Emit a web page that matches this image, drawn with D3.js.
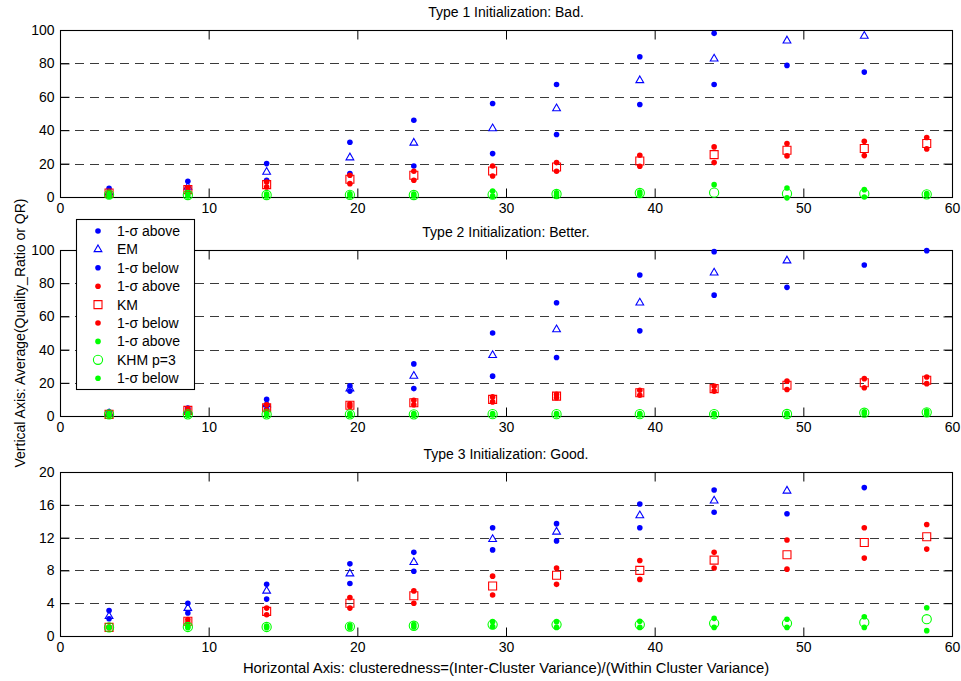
<!DOCTYPE html>
<html>
<head>
<meta charset="utf-8">
<script src="https://cdn.jsdelivr.net/npm/d3@7"></script>
<style>
  html, body { margin: 0; padding: 0; background: #fff; }
  svg { display: block; }
  text { font-family: "Liberation Sans", Arial, sans-serif; fill: #000; }
</style>
</head>
<body>
<svg id="chart" width="961" height="681"></svg>
<script>
// ---------------- DATA ----------------
const xValues = [3.3, 8.6, 13.9, 19.5, 23.8, 29.1, 33.4, 39.0, 44.0, 48.9, 54.1, 58.3];
const xTicks = [0, 10, 20, 30, 40, 50, 60];
const yTicksA = [0, 20, 40, 60, 80, 100];
const yTicksC = [0, 4, 8, 12, 16, 20];
const panelTitles = ["Type 1 Initialization: Bad.", "Type 2 Initialization: Better.", "Type 3 Initialization: Good."];
const legendLabels = ["1-σ above", "EM", "1-σ below", "1-σ above", "KM", "1-σ below", "1-σ above", "KHM p=3", "1-σ below"];

// Type 1 (Bad)
const emAbove1 = [5.2, 9.4, 20, 32.8, 46, 56, 67.4, 84, 98, 108, 118, 138];
const em1      = [2.5, 6, 15, 23.6, 32.4, 41, 53, 69.8, 82.8, 93.6, 96.4, 120];
const emBelow1 = [0.8, 3, 10, 14, 18.6, 26, 37.4, 55.4, 67.4, 78.8, 74.8, 102];
const kmAbove1 = [3, 5.5, 9, 13, 15.4, 18.6, 20.6, 25, 30, 32, 33.4, 35.6];
const km1      = [2.4, 4.4, 7.4, 10.6, 13, 15.6, 18, 21.6, 25.4, 28, 29, 32];
const kmBelow1 = [1, 3, 6, 8, 10, 12.6, 15.4, 18.4, 20.6, 24.6, 24.8, 28.8];
const khmAbove1 = [2, 1.8, 1.8, 1.9, 1.8, 3.6, 2.5, 3, 7.4, 5.4, 4.4, 2];
const khm1      = [1.4, 1.2, 1.2, 1.3, 1.2, 1.4, 1.8, 2.4, 2.6, 2, 2, 1.6];
const khmBelow1 = [0.5, 0.6, 0.6, 0.7, 0.6, 0.5, 1, 1.6, -3, -0.5, 0, 1.2];

// Type 2 (Better)
const emAbove2 = [2.5, 4.8, 10, 18.2, 31.4, 50, 68.2, 84.9, 99, 110, 119, 120];
const em2      = [1.5, 3, 7, 16.5, 24.1, 36.6, 52.1, 68.2, 86.3, 93.6, 105, 110];
const emBelow2 = [0.7, 1.5, 4, 15, 16.5, 24, 35.2, 51.3, 72.8, 77.5, 91, 99.6];
const kmAbove2 = [1.5, 4, 6.8, 7.3, 9.5, 11.5, 13, 15.5, 18, 21, 22.5, 23.5];
const km2      = [1, 3.4, 5, 6.5, 8, 10, 12, 14, 16.5, 18.5, 20, 21.5];
const kmBelow2 = [0.5, 2.8, 3.5, 5.7, 6.8, 8.5, 11, 12.5, 15, 16, 17, 19.5];
const khmAbove2 = [1.5, 1.5, 1.5, 1.5, 1.5, 1.5, 1.5, 1.5, 1.5, 1.6, 2.6, 3];
const khm2      = [1, 1, 1, 1, 1, 1.1, 1.1, 1.1, 1.1, 1.2, 2, 2.2];
const khmBelow2 = [0.5, 0.5, 0.5, 0.5, 0.5, 0.6, 0.6, 0.6, 0.6, 0.7, 1.4, 1.4];

// Type 3 (Good)
const emAbove3 = [3.1, 4, 6.3, 8.8, 10.2, 13.2, 13.7, 16.1, 17.8, 20.5, 24, 26];
const em3      = [2.4, 3.4, 5.5, 7.6, 9, 11.8, 12.7, 14.7, 16.5, 17.7, 21, 23];
const emBelow3 = [2.1, 2.8, 4.5, 6.4, 7.9, 10.5, 11.6, 13.2, 15.1, 14.9, 18.1, 21];
const kmAbove3 = [1.1, 2.0, 3.4, 4.7, 5.5, 7.3, 8.3, 9.2, 10.2, 11.7, 13.2, 13.6];
const km3      = [1.05, 1.8, 3.0, 4.0, 4.9, 6.1, 7.4, 8.0, 9.25, 9.9, 11.4, 12.1];
const kmBelow3 = [1.0, 1.6, 2.6, 3.4, 4.0, 5.0, 6.3, 6.9, 8.3, 8.15, 9.5, 10.6];
const khmAbove3 = [1.1, 1.2, 1.2, 1.3, 1.4, 1.75, 1.75, 1.8, 2.15, 2.05, 2.35, 3.45];
const khm3      = [1.05, 1.1, 1.1, 1.15, 1.25, 1.4, 1.4, 1.4, 1.55, 1.55, 1.65, 2.05];
const khmBelow3 = [1.0, 1.0, 1.0, 1.0, 1.1, 1.15, 1.05, 1.05, 1.05, 1.05, 1.05, 0.65];

// ---------------- STYLE / LAYOUT ----------------
const BLUE = "#0000ff", RED = "#ff0000", GREEN = "#00ff00";
const seriesStyles = [
  { kind: "dot", color: BLUE }, { kind: "tri", color: BLUE }, { kind: "dot", color: BLUE },
  { kind: "dot", color: RED },  { kind: "sq", color: RED },   { kind: "dot", color: RED },
  { kind: "dot", color: GREEN },{ kind: "circ", color: GREEN },{ kind: "dot", color: GREEN }
];
const panels = [
  { top: 30, bottom: 197, max: 100, ticks: yTicksA, title: panelTitles[0],
    series: [emAbove1, em1, emBelow1, kmAbove1, km1, kmBelow1, khmAbove1, khm1, khmBelow1] },
  { top: 250, bottom: 416, max: 100, ticks: yTicksA, title: panelTitles[1],
    series: [emAbove2, em2, emBelow2, kmAbove2, km2, kmBelow2, khmAbove2, khm2, khmBelow2] },
  { top: 472, bottom: 636, max: 20, ticks: yTicksC, title: panelTitles[2],
    series: [emAbove3, em3, emBelow3, kmAbove3, km3, kmBelow3, khmAbove3, khm3, khmBelow3] }
];
const L = 60, R = 952, FS = 14, TICK = 9;

const svg = d3.select("#chart");
const x = d3.scaleLinear().domain([0, 60]).range([L, R]);

function drawMarker(g, kind, color, cx, cy) {
  if (kind === "dot") {
    g.append("circle").attr("cx", cx).attr("cy", cy).attr("r", 2.8).attr("fill", color);
  } else if (kind === "circ") {
    g.append("circle").attr("cx", cx).attr("cy", cy).attr("r", 4.6)
      .attr("fill", "none").attr("stroke", color).attr("stroke-width", 1.1);
  } else if (kind === "sq") {
    g.append("path").attr("d", d3.symbol(d3.symbolSquare, 64)())
      .attr("transform", `translate(${cx},${cy})`)
      .attr("fill", "none").attr("stroke", color).attr("stroke-width", 1.1);
  } else if (kind === "tri") {
    g.append("path").attr("d", d3.symbol(d3.symbolTriangle, 26)())
      .attr("transform", `translate(${cx},${cy})`)
      .attr("fill", "none").attr("stroke", color).attr("stroke-width", 1.1);
  }
}

panels.forEach(p => {
  const y = d3.scaleLinear().domain([0, p.max]).range([p.bottom, p.top]);
  const g = svg.append("g");

  // dashed grid lines
  g.append("g").selectAll("line")
    .data(p.ticks.filter(t => t > 0 && t < p.max))
    .join("line")
    .attr("x1", x(0)).attr("x2", x(60))
    .attr("y1", d => Math.round(y(d)) + 0.5).attr("y2", d => Math.round(y(d)) + 0.5)
    .attr("stroke", "#3a3a3a").attr("stroke-width", 1)
    .attr("stroke-dasharray", "9,6");

  // axes
  const gx = g.append("g").attr("transform", `translate(0,${p.bottom + 0.5})`)
    .call(d3.axisBottom(x).tickValues(xTicks).tickSizeInner(-TICK).tickSizeOuter(0).tickPadding(6));
  const gxt = g.append("g").attr("transform", `translate(0,${p.top + 0.5})`)
    .call(d3.axisTop(x).tickValues(xTicks).tickSizeInner(-TICK).tickSizeOuter(0).tickFormat(""));
  const gy = g.append("g").attr("transform", `translate(${L + 0.5},0)`)
    .call(d3.axisLeft(y).tickValues(p.ticks).tickSizeInner(-TICK).tickSizeOuter(0).tickPadding(6));
  const gyr = g.append("g").attr("transform", `translate(${R + 0.5},0)`)
    .call(d3.axisRight(y).tickValues(p.ticks).tickSizeInner(-TICK).tickSizeOuter(0).tickFormat(""));
  [gx, gxt, gy, gyr].forEach(a => {
    a.select(".domain").remove();
    a.selectAll("line").attr("stroke", "#000");
    a.selectAll("text").attr("font-size", FS).attr("font-family", '"Liberation Sans", Arial, sans-serif').attr("fill", "#000");
  });

  // box
  g.append("rect").attr("x", L + 0.5).attr("y", p.top + 0.5)
    .attr("width", R - L).attr("height", p.bottom - p.top)
    .attr("fill", "none").attr("stroke", "#000").attr("stroke-width", 1.1);

  // title
  g.append("text").attr("x", (L + R) / 2).attr("y", p.top - 13)
    .attr("text-anchor", "middle").attr("font-size", FS).text(p.title);

  // markers
  const mg = g.append("g");
  p.series.forEach((vals, si) => {
    const st = seriesStyles[si];
    vals.forEach((v, i) => {
      if (v > p.max + 0.3 || v < -1) return;
      drawMarker(mg, st.kind, st.color, x(xValues[i]), y(v));
    });
  });
});

// axis titles
svg.append("text").attr("x", (L + R) / 2).attr("y", 673)
  .attr("text-anchor", "middle").attr("font-size", 14.8)
  .text("Horizontal Axis: clusteredness=(Inter-Cluster Variance)/(Within Cluster Variance)");
svg.append("text").attr("transform", "translate(25,333) rotate(-90)")
  .attr("text-anchor", "middle").attr("font-size", FS)
  .text("Vertical Axis: Average(Quality_Ratio or QR)");

// legend
const lg = svg.append("g");
lg.append("rect").attr("x", 76.5).attr("y", 219.5).attr("width", 118).attr("height", 170)
  .attr("fill", "#fff").attr("stroke", "#000").attr("stroke-width", 1.1);
legendLabels.forEach((lab, i) => {
  const cy = 231 + i * 18.4;
  drawMarker(lg, seriesStyles[i].kind, seriesStyles[i].color, 98, cy);
  lg.append("text").attr("x", 117).attr("y", cy + 5).attr("font-size", FS).text(lab);
});
</script>
</body>
</html>
